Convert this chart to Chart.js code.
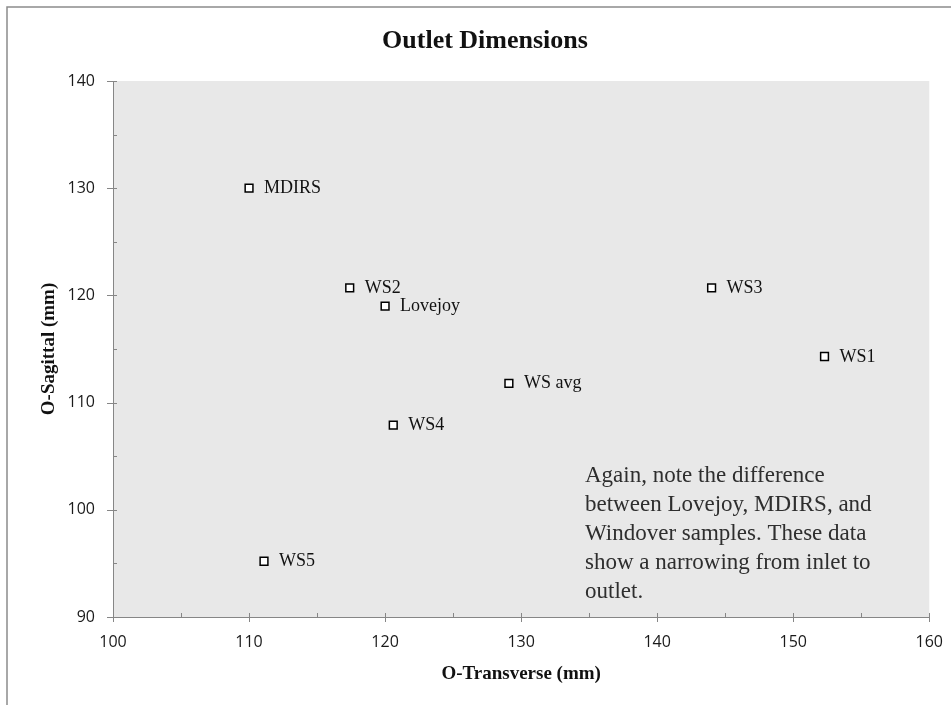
<!DOCTYPE html>
<html>
<head>
<meta charset="utf-8">
<script src="https://cdn.jsdelivr.net/npm/chart.js@4.4.0/dist/chart.umd.min.js"></script>
<style>
  html, body { margin: 0; padding: 0; background: #fff; }
  #c { display: block; }
</style>
</head>
<body>
<canvas id="c" width="951" height="705"></canvas>
<script>
// sample names and outlet measurements (mm)
const sampleNames = ['MDIRS', 'WS2', 'Lovejoy', 'WS3', 'WS1', 'WS avg', 'WS4', 'WS5'];
const transverse = [110.0, 117.4, 120.0, 144.0, 152.3, 129.1, 120.6, 111.1];
const sagittal = [130.0, 120.7, 119.0, 120.7, 114.3, 111.8, 107.9, 95.2];

const xTicks = [100, 110, 120, 130, 140, 150, 160];
const yTicks = [90, 100, 110, 120, 130, 140];

const noteLines = [
    'Again, note the difference',
    'between Lovejoy, MDIRS, and',
    'Windover samples. These data',
    'show a narrowing from inlet to',
    'outlet.',
];

const serif = '"Liberation Serif", "DejaVu Serif", serif';
const axisGray = '#868686';

const decor = {
    id: 'decor',
    beforeDraw(chart) {
        const ctx = chart.ctx;
        const a = chart.chartArea;
        ctx.save();
        ctx.fillStyle = '#fff';
        ctx.fillRect(0, 0, chart.width, chart.height);
        // outer frame (cropped figure)
        ctx.strokeStyle = '#8c8c8c';
        ctx.lineWidth = 1.5;
        ctx.beginPath();
        ctx.moveTo(7, chart.height);
        ctx.lineTo(7, 7);
        ctx.lineTo(chart.width, 7);
        ctx.stroke();
        // plot background
        ctx.fillStyle = '#e8e8e8';
        ctx.fillRect(a.left, a.top, a.right - a.left, a.bottom - a.top);
        ctx.restore();
    },
    afterDraw(chart) {
        const ctx = chart.ctx;
        const a = chart.chartArea;
        const xs = chart.scales.x;
        const ys = chart.scales.y;
        ctx.save();
        ctx.strokeStyle = axisGray;
        ctx.lineWidth = 1;
        for (let v = 100; v <= 160; v += 5) {
            const px = Math.round(xs.getPixelForValue(v)) + 0.5;
            const major = v % 10 === 0;
            ctx.beginPath();
            ctx.moveTo(px, a.bottom - 4);
            ctx.lineTo(px, a.bottom + (major ? 5 : 0));
            ctx.stroke();
        }
        for (let v = 90; v <= 140; v += 5) {
            const py = Math.round(ys.getPixelForValue(v)) + 0.5;
            const major = v % 10 === 0;
            ctx.beginPath();
            ctx.moveTo(a.left - (major ? 6 : 0), py);
            ctx.lineTo(a.left + 4, py);
            ctx.stroke();
        }

        // point labels
        const meta = chart.getDatasetMeta(0);
        ctx.fillStyle = '#111';
        ctx.font = '18px ' + serif;
        ctx.textAlign = 'left';
        ctx.textBaseline = 'alphabetic';
        meta.data.forEach((pt, i) => {
            ctx.fillText(sampleNames[i], pt.x + 15, pt.y + 5);
        });

        // title
        ctx.fillStyle = '#111';
        ctx.font = 'bold 26px ' + serif;
        ctx.textAlign = 'center';
        ctx.fillText('Outlet Dimensions', 485, 48);

        // axis titles
        ctx.font = 'bold 19px ' + serif;
        ctx.fillText('O-Transverse (mm)', (a.left + a.right) / 2, 679);
        ctx.save();
        ctx.translate(54, (a.top + a.bottom) / 2);
        ctx.rotate(-Math.PI / 2);
        ctx.fillText('O-Sagittal (mm)', 0, 0);
        ctx.restore();

        // note
        ctx.fillStyle = '#2e2e2e';
        ctx.font = '23px ' + serif;
        ctx.textAlign = 'left';
        noteLines.forEach((line, i) => {
            ctx.fillText(line, 585, 482 + i * 29);
        });
        ctx.restore();
    },
};

new Chart(document.getElementById('c'), {
    type: 'scatter',
    data: {
        datasets: [{
            label: 'Outlet',
            data: transverse.map((x, i) => ({ x: x, y: sagittal[i] })),
            pointStyle: 'rect',
            pointRadius: 5.5,
            pointHoverRadius: 5.5,
            backgroundColor: '#fff',
            borderColor: '#000',
            pointBorderWidth: 1.5,
        }],
    },
    options: {
        responsive: false,
        animation: false,
        devicePixelRatio: 1,
        layout: { padding: { top: 81, right: 16, left: 0, bottom: 0 } },
        plugins: {
            legend: { display: false },
            tooltip: { enabled: false },
            title: { display: false },
        },
        scales: {
            x: {
                type: 'linear',
                min: 100,
                max: 160,
                afterFit(scale) { scale.height = 88; },
                afterBuildTicks(scale) { scale.ticks = xTicks.map(v => ({ value: v })); },
                ticks: {
                    padding: 8,
                    color: '#1a1a1a',
                    font: { family: '"Open Sans", sans-serif', size: 16 },
                },
                grid: { display: false },
                border: { display: true, color: axisGray, width: 1 },
            },
            y: {
                type: 'linear',
                min: 90,
                max: 140,
                afterFit(scale) { scale.width = 113; },
                afterBuildTicks(scale) { scale.ticks = yTicks.map(v => ({ value: v })); },
                ticks: {
                    padding: 10,
                    color: '#1a1a1a',
                    font: { family: '"Open Sans", sans-serif', size: 16 },
                },
                grid: { display: false },
                border: { display: true, color: axisGray, width: 1 },
            },
        },
    },
    plugins: [decor],
});
</script>
</body>
</html>
